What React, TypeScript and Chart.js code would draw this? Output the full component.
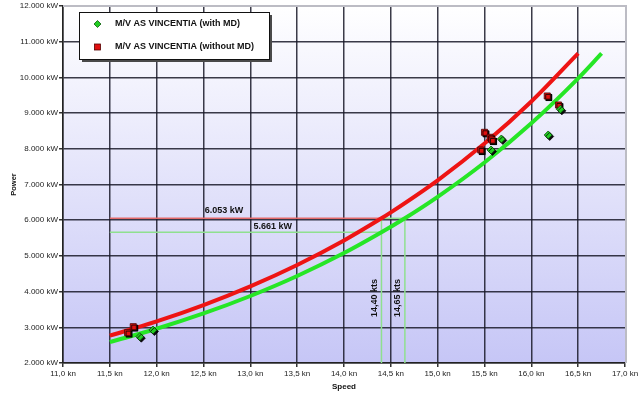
import React, { useEffect, useRef } from "react";
import { Chart, registerables } from "chart.js";

Chart.register(...registerables);

// Fitted speed–power curves (kn, kW)
const curveSpeedsWithoutMD = [11.5, 12.0, 12.5, 13.0, 13.5, 14.0, 14.4, 14.5, 15.0, 15.5, 16.0, 16.5];
const curvePowerWithoutMD = [2766, 3166, 3624, 4148, 4747, 5433, 6053, 6219, 7118, 8146, 9324, 10671];
const curveSpeedsWithMD = [11.5, 12.0, 12.5, 13.0, 13.5, 14.0, 14.4, 14.65, 15.0, 15.5, 16.0, 16.5, 16.75];
const curvePowerWithMD = [2586, 2959, 3387, 3877, 4437, 5079, 5661, 6053, 6653, 7615, 8715, 9975, 10671];

// Measured trial points
const trialSpeedsWithMD = [11.82, 11.96, 15.57, 15.68, 16.18, 16.31];
const trialPowerWithMD = [2737, 2924, 7966, 8275, 8387, 9106];
const trialSpeedsWithoutMD = [11.69, 11.75, 15.46, 15.5, 15.56, 15.58, 16.17, 16.29];
const trialPowerWithoutMD = [2849, 3017, 7966, 8462, 8322, 8246, 9479, 9227];

// Reference readings
const refPowerWithoutMD = 6053;
const refPowerWithMD = 5661;
const refSpeedWithoutMD = 14.4;
const refSpeedWithMD = 14.65;
const refLineStartSpeed = 11.5;
const powerLabelSpeeds = [12.72, 13.24];
const speedLabelPower = 3820;

// Axis ranges
const speedRange = [11.0, 17.0];
const speedStep = 0.5;
const powerRange = [2000, 12000];
const powerStep = 1000;

const seriesLabels = ["M/V AS VINCENTIA (with MD)", "M/V AS VINCENTIA (without MD)"];
const axisTitles = { x: "Speed", y: "Power" };

const FONT = "'Liberation Sans', Arial, sans-serif";
const RED = "#ee1414";
const GREEN = "#26e626";
const RED_POINT = "#e01010";
const GREEN_POINT = "#22cc22";

const fmtKW = (v: number) =>
  Math.round(v).toString().replace(/\B(?=(\d{3})+(?!\d))/g, ".") + " kW";
const fmtKn = (v: number) => v.toFixed(1).replace(".", ",") + " kn";
const fmtKts = (v: number) => v.toFixed(2).replace(".", ",") + " kts";

const toPoints = (xs: number[], ys: number[]) => xs.map((x, i) => ({ x, y: ys[i] }));

const decorPlugin = {
  id: "decor",
  beforeDraw(chart: any) {
    const { ctx, chartArea: a } = chart;
    ctx.save();
    const g = ctx.createLinearGradient(0, a.top, 0, a.bottom);
    g.addColorStop(0, "#ffffff");
    g.addColorStop(1, "#c6c6f6");
    ctx.fillStyle = g;
    ctx.fillRect(a.left, a.top, a.right - a.left, a.bottom - a.top);
    ctx.restore();
  },
  beforeDatasetsDraw(chart: any) {
    const { ctx, chartArea: a } = chart;
    ctx.save();
    ctx.strokeStyle = "#bcbcc4";
    ctx.lineWidth = 2;
    ctx.beginPath();
    ctx.moveTo(a.left, a.top);
    ctx.lineTo(a.right + 1, a.top);
    ctx.lineTo(a.right + 1, a.bottom);
    ctx.stroke();
    ctx.restore();
  },
  beforeDatasetDraw(chart: any, args: any) {
    const ds = chart.data.datasets[args.index];
    const ctx = chart.ctx;
    ctx.save();
    if (ds.dropShadow) {
      ctx.shadowColor = "rgba(0,0,0,0.95)";
      ctx.shadowOffsetX = 1.5;
      ctx.shadowOffsetY = 1.5;
      ctx.shadowBlur = 0.5;
    }
  },
  afterDatasetDraw(chart: any) {
    chart.ctx.restore();
  },
  afterDraw(chart: any) {
    const { ctx, chartArea: a, scales } = chart;
    const xs = scales.x;
    const ys = scales.y;
    ctx.save();
    ctx.fillStyle = "#111";

    // reference values
    ctx.font = `bold 9px ${FONT}`;
    ctx.textAlign = "center";
    ctx.textBaseline = "middle";
    ctx.fillText(
      fmtKW(refPowerWithoutMD),
      xs.getPixelForValue(powerLabelSpeeds[0]),
      ys.getPixelForValue(refPowerWithoutMD) - 8
    );
    ctx.fillText(
      fmtKW(refPowerWithMD),
      xs.getPixelForValue(powerLabelSpeeds[1]),
      ys.getPixelForValue(refPowerWithMD) - 6
    );
    [refSpeedWithoutMD, refSpeedWithMD].forEach((s) => {
      ctx.save();
      ctx.translate(xs.getPixelForValue(s) - 7, ys.getPixelForValue(speedLabelPower));
      ctx.rotate(-Math.PI / 2);
      ctx.fillText(fmtKts(s), 0, 0);
      ctx.restore();
    });

    // axis titles
    ctx.font = `bold 8px ${FONT}`;
    ctx.fillText(axisTitles.x, (a.left + a.right) / 2, 387);
    ctx.save();
    ctx.translate(14, (a.top + a.bottom) / 2);
    ctx.rotate(-Math.PI / 2);
    ctx.font = `bold 7.5px ${FONT}`;
    ctx.fillText(axisTitles.y, 0, 0);
    ctx.restore();

    // legend box
    const lx = a.left + 16;
    const ly = a.top + 6;
    const lw = 190;
    const lh = 47;
    ctx.fillStyle = "#4a4a4a";
    ctx.fillRect(lx + 3, ly + 3, lw, lh);
    ctx.fillStyle = "#ffffff";
    ctx.fillRect(lx, ly, lw, lh);
    ctx.strokeStyle = "#111";
    ctx.lineWidth = 1;
    ctx.strokeRect(lx + 0.5, ly + 0.5, lw, lh);

    const mx = lx + 18.5;
    const r1 = ly + 12;
    const r2 = ly + 35;
    // diamond
    ctx.fillStyle = GREEN_POINT;
    ctx.strokeStyle = "#0a5a0a";
    ctx.lineWidth = 0.8;
    ctx.beginPath();
    ctx.moveTo(mx, r1 - 3.5);
    ctx.lineTo(mx + 3.5, r1);
    ctx.lineTo(mx, r1 + 3.5);
    ctx.lineTo(mx - 3.5, r1);
    ctx.closePath();
    ctx.fill();
    ctx.stroke();
    // square
    ctx.fillStyle = RED_POINT;
    ctx.strokeStyle = "#500";
    ctx.fillRect(mx - 3, r2 - 3, 6, 6);
    ctx.strokeRect(mx - 3, r2 - 3, 6, 6);

    ctx.fillStyle = "#111";
    ctx.font = `bold 9px ${FONT}`;
    ctx.textAlign = "left";
    ctx.fillText(seriesLabels[0], lx + 36, r1);
    ctx.fillText(seriesLabels[1], lx + 36, r2);
    ctx.restore();
  },
};

export default function App() {
  const canvasRef = useRef<HTMLCanvasElement | null>(null);

  useEffect(() => {
    document.body.style.margin = "0";
    const canvas = canvasRef.current;
    if (!canvas) return;

    const refLine = (pts: { x: number; y: number }[], color: string) => ({
      type: "line" as const,
      data: pts,
      borderColor: color,
      borderWidth: 1.5,
      pointRadius: 0,
      fill: false,
      tension: 0,
    });

    const chart = new Chart(canvas, {
      type: "scatter",
      data: {
        datasets: [
          {
            label: seriesLabels[0],
            data: toPoints(trialSpeedsWithMD, trialPowerWithMD),
            pointStyle: "rectRot",
            pointRadius: 4,
            backgroundColor: GREEN_POINT,
            borderColor: "#0a4a0a",
            borderWidth: 0.8,
            dropShadow: true,
          } as any,
          {
            label: seriesLabels[1],
            data: toPoints(trialSpeedsWithoutMD, trialPowerWithoutMD),
            pointStyle: "rect",
            pointRadius: 4.3,
            backgroundColor: RED_POINT,
            borderColor: "#4a0000",
            borderWidth: 0.8,
            dropShadow: true,
          } as any,
          {
            type: "line",
            label: "curve with MD",
            data: toPoints(curveSpeedsWithMD, curvePowerWithMD),
            borderColor: GREEN,
            borderWidth: 4,
            pointRadius: 0,
            fill: false,
            cubicInterpolationMode: "monotone",
          } as any,
          {
            type: "line",
            label: "curve without MD",
            data: toPoints(curveSpeedsWithoutMD, curvePowerWithoutMD),
            borderColor: RED,
            borderWidth: 4,
            pointRadius: 0,
            fill: false,
            cubicInterpolationMode: "monotone",
          } as any,
          refLine(
            [
              { x: refLineStartSpeed, y: refPowerWithoutMD },
              { x: refSpeedWithoutMD, y: refPowerWithoutMD },
            ],
            "#e36a6a"
          ),
          refLine(
            [
              { x: refSpeedWithoutMD, y: refPowerWithoutMD },
              { x: refSpeedWithMD, y: refPowerWithoutMD },
            ],
            "#8fe08f"
          ),
          refLine(
            [
              { x: refLineStartSpeed, y: refPowerWithMD },
              { x: refSpeedWithoutMD, y: refPowerWithMD },
            ],
            "#8fe08f"
          ),
          refLine(
            [
              { x: refSpeedWithoutMD, y: powerRange[0] },
              { x: refSpeedWithoutMD, y: refPowerWithoutMD },
            ],
            "#8fe08f"
          ),
          refLine(
            [
              { x: refSpeedWithMD, y: powerRange[0] },
              { x: refSpeedWithMD, y: refPowerWithoutMD },
            ],
            "#8fe08f"
          ),
        ],
      },
      options: {
        responsive: false,
        animation: false,
        devicePixelRatio: 1,
        layout: { padding: { top: 6, right: 18, left: 0, bottom: 0 } },
        plugins: {
          legend: { display: false },
          tooltip: { enabled: false },
        },
        scales: {
          x: {
            type: "linear",
            min: speedRange[0],
            max: speedRange[1],
            afterFit: (s: any) => {
              s.height = 33;
              s.paddingLeft = 0;
              s.paddingRight = 0;
            },
            ticks: {
              stepSize: speedStep,
              callback: (v: any) => fmtKn(Number(v)),
              font: { family: FONT, size: 8 },
              color: "#222",
              padding: 2,
              maxRotation: 0,
              autoSkip: false,
            },
            grid: {
              color: (c: any) =>
                c.tick && c.tick.value === speedRange[1] ? "rgba(0,0,0,0)" : "rgba(25,25,40,0.85)",
              lineWidth: 1.5,
              tickLength: 4,
              tickColor: "#333",
            },
            border: { color: "#222", width: 1.5 },
          },
          y: {
            type: "linear",
            min: powerRange[0],
            max: powerRange[1],
            afterFit: (s: any) => {
              s.width = 63;
              s.paddingTop = 0;
              s.paddingBottom = 0;
            },
            ticks: {
              stepSize: powerStep,
              callback: (v: any) => fmtKW(Number(v)),
              font: { family: FONT, size: 8 },
              color: "#222",
              padding: 1,
            },
            grid: {
              color: (c: any) =>
                c.tick && c.tick.value === powerRange[1] ? "rgba(0,0,0,0)" : "rgba(25,25,40,0.85)",
              lineWidth: 1.5,
              tickLength: 4,
              tickColor: "#333",
            },
            border: { color: "#222", width: 1.5 },
          },
        },
      } as any,
      plugins: [decorPlugin],
    });

    return () => chart.destroy();
  }, []);

  return (
    <div style={{ width: 643, height: 396, background: "#fff" }}>
      <canvas ref={canvasRef} width={643} height={396} style={{ display: "block" }} />
    </div>
  );
}
